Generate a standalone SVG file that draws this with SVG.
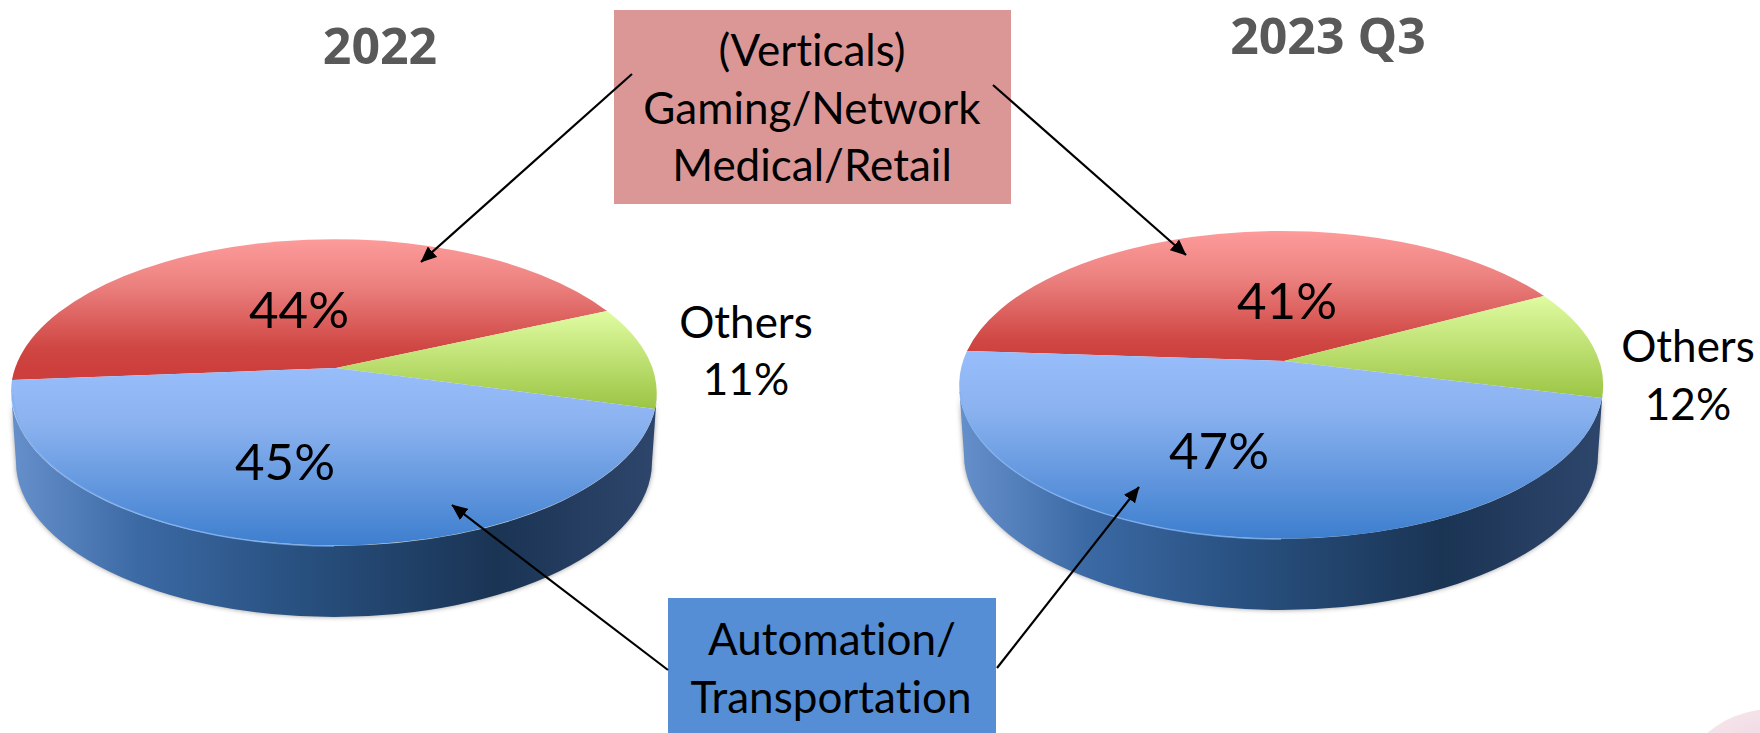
<svg xmlns="http://www.w3.org/2000/svg" width="1760" height="733" viewBox="0 0 1760 733">
<style>
text{font-family:"Lato","Open Sans","Liberation Sans",sans-serif;fill:#000;text-anchor:middle;font-variant-ligatures:none}
.lbl{font-size:51px}
.lbl2{font-size:44px}
.title{font-size:50px;font-weight:700;fill:#595959;font-family:"Open Sans","Liberation Sans",sans-serif}
.conn{stroke:#000;stroke-width:2.2;fill:none;marker-end:url(#ah)}
</style>
<defs>
<marker id="ah" viewBox="0 0 10 10" refX="9.6" refY="5" markerWidth="16" markerHeight="14" markerUnits="userSpaceOnUse" orient="auto" preserveAspectRatio="none"><path d="M0 0L10 5L0 10Z" fill="#000"/></marker>
<linearGradient id="red1" gradientUnits="userSpaceOnUse" x1="0" y1="238" x2="0" y2="368"><stop offset="0" stop-color="#FD9C9B"/><stop offset=".35" stop-color="#EC8280"/><stop offset=".85" stop-color="#CF4643"/><stop offset="1" stop-color="#CC3F3C"/></linearGradient>
<linearGradient id="grn1" gradientUnits="userSpaceOnUse" x1="0" y1="311" x2="0" y2="408"><stop offset="0" stop-color="#E0FCA2"/><stop offset="1" stop-color="#9CC544"/></linearGradient>
<linearGradient id="blu1" gradientUnits="userSpaceOnUse" x1="0" y1="368" x2="0" y2="546"><stop offset="0" stop-color="#97BDFA"/><stop offset=".3" stop-color="#8CB3F0"/><stop offset="1" stop-color="#3D7ECE"/></linearGradient>
<linearGradient id="red2" gradientUnits="userSpaceOnUse" x1="0" y1="231" x2="0" y2="361"><stop offset="0" stop-color="#FD9C9B"/><stop offset=".35" stop-color="#EC8280"/><stop offset=".85" stop-color="#CF4643"/><stop offset="1" stop-color="#CC3F3C"/></linearGradient>
<linearGradient id="grn2" gradientUnits="userSpaceOnUse" x1="0" y1="295" x2="0" y2="398"><stop offset="0" stop-color="#E0FCA2"/><stop offset="1" stop-color="#9CC544"/></linearGradient>
<linearGradient id="blu2" gradientUnits="userSpaceOnUse" x1="0" y1="351" x2="0" y2="539"><stop offset="0" stop-color="#97BDFA"/><stop offset=".3" stop-color="#8CB3F0"/><stop offset="1" stop-color="#3D7ECE"/></linearGradient>
<linearGradient id="side" x1="0" y1="0" x2="1" y2="0"><stop offset="0" stop-color="#6690CB"/><stop offset=".2" stop-color="#3B69A4"/><stop offset=".45" stop-color="#28507F"/><stop offset=".75" stop-color="#1A3454"/><stop offset="1" stop-color="#2F466C"/></linearGradient>
<filter id="sh" x="-5%" y="-5%" width="110%" height="110%"><feGaussianBlur stdDeviation="2.5"/></filter>
<radialGradient id="pink" gradientUnits="userSpaceOnUse" cx="1772" cy="808" r="99"><stop offset="0" stop-color="#E9C3D2"/><stop offset="1" stop-color="#F5E3EA"/></radialGradient>
</defs>
<rect width="1760" height="733" fill="#fff"/>
<circle id="corner" cx="1772" cy="808" r="99" fill="url(#pink)"/>
<g id="pie-2022">
<path d="M11 392A323 154 0 0 0 657 392L652 462A318 155 0 0 1 16 462Z" fill="#555" opacity=".6" filter="url(#sh)"/>
<path d="M11 392A323 154 0 0 0 657 392L652 462A318 155 0 0 1 16 462Z" fill="url(#side)"/>
<path d="M336 368L12 380A323 154 0 0 1 607 311Z" fill="url(#red1)"/>
<path d="M336 368L607 311A323 154 0 0 1 655 409Z" fill="url(#grn1)"/>
<path d="M336 368L655 409A323 154 0 0 1 12 380Z" fill="url(#blu1)"/>
<path d="M13 395A323 154 0 0 0 334 546" fill="none" stroke="#7FB0F2" stroke-width="1.5" opacity=".8"/>
<text class="lbl" x="299" y="328">44%</text>
<text class="lbl" x="285" y="480">45%</text>
</g>
<g id="pie-2023">
<path d="M959 385A322 154 0 0 0 1603 385L1598 455A317 155 0 0 1 964 455Z" fill="#555" opacity=".6" filter="url(#sh)"/>
<path d="M959 385A322 154 0 0 0 1603 385L1598 455A317 155 0 0 1 964 455Z" fill="url(#side)"/>
<path d="M1284 361L967 351A322 154 0 0 1 1544 296Z" fill="url(#red2)"/>
<path d="M1284 361L1544 296A322 154 0 0 1 1602 398Z" fill="url(#grn2)"/>
<path d="M1284 361L1602 398A322 154 0 1 1 967 351Z" fill="url(#blu2)"/>
<path d="M960 392A322 154 0 0 0 1281 539" fill="none" stroke="#7FB0F2" stroke-width="1.5" opacity=".8"/>
<text class="lbl" x="1287" y="319">41%</text>
<text class="lbl" x="1219" y="469">47%</text>
</g>
<g id="verticals">
<rect x="614" y="10" width="397" height="194" fill="#DB9796"/>
<text class="lbl2" x="812" y="66">(Verticals)</text>
<text class="lbl2" x="812" y="124">Gaming/Network</text>
<text class="lbl2" x="812" y="181">Medical/Retail</text>
</g>
<g id="automation">
<rect x="668" y="598" width="328" height="135" fill="#558ED5"/>
<text class="lbl2" x="832" y="655">Automation/</text>
<text class="lbl2" x="831" y="713">Transportation</text>
</g>
<g id="connectors">
<path class="conn" d="M632 74L421 262"/>
<path class="conn" d="M993 85L1186 255"/>
<path class="conn" d="M668 670L452 505"/>
<path class="conn" d="M997 668L1139 487"/>
</g>
<g id="title-2022"><text class="title" x="380" y="64">2022</text></g>
<g id="title-2023"><text class="title" x="1328" y="54">2023 Q3</text></g>
<g id="others-2022"><text class="lbl2" x="746" y="338">Others</text><text class="lbl2" x="746" y="395">11%</text></g>
<g id="others-2023"><text class="lbl2" x="1688" y="362">Others</text><text class="lbl2" x="1688" y="420">12%</text></g>
</svg>
